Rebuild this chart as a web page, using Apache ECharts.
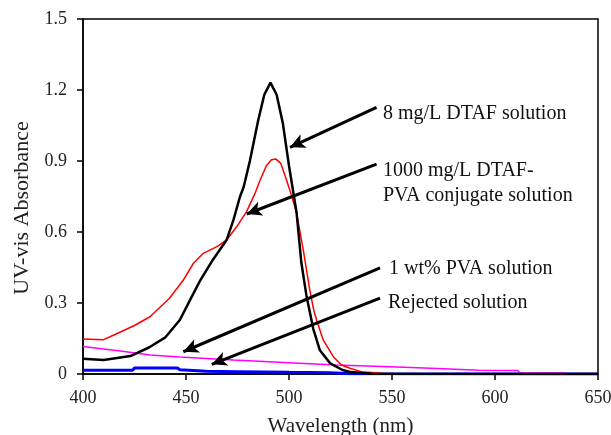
<!DOCTYPE html>
<html><head><meta charset="utf-8">
<script src="https://cdn.jsdelivr.net/npm/echarts@6/dist/echarts.min.js"></script>
<style>html,body{margin:0;padding:0;background:#fff}#c{width:611px;height:435px}</style>
</head><body><div id="c"></div>
<script>
// wavelengths (nm) and absorbance values
const dtafX = [400,410,423,432,440,447,452,457,463,469.7,473,476.2,478,481,485,488,491,494,497,500,503.7,506,508.5,511.8,515,520,526,530,540,650];
const dtafY = [0.064,0.059,0.076,0.112,0.155,0.228,0.313,0.397,0.482,0.566,0.65,0.749,0.79,0.90,1.07,1.18,1.231,1.18,1.06,0.88,0.68,0.47,0.33,0.19,0.10,0.045,0.017,0.008,0.001,0];
const conjX = [400,410,415,425,432.5,442,448.7,453.6,458.4,465,469.7,474.6,479.4,483.5,486,489,491.5,493.7,496,498.8,501,503.7,507,510,512,513.4,516.6,521.5,525.5,529.6,535,545,555,650];
const conjY = [0.148,0.145,0.165,0.205,0.242,0.32,0.397,0.468,0.51,0.538,0.566,0.622,0.686,0.763,0.82,0.88,0.905,0.908,0.89,0.82,0.76,0.68,0.52,0.36,0.27,0.228,0.144,0.073,0.038,0.024,0.01,0.003,0,0];
const pvaX = [400,420,432.5,447,473,500,523,556,575,592,611,612,634,635,650];
const pvaY = [0.116,0.095,0.08,0.072,0.059,0.048,0.038,0.028,0.022,0.016,0.015,0.005,0.004,0,0];
const rejX = [400,424,425,446,447,460,475,500,520,530,650];
const rejY = [0.016,0.016,0.025,0.025,0.018,0.012,0.01,0.007,0.005,0.001,0];
const xTicks = [400,450,500,550,600,650];
const yTicks = [0,0.3,0.6,0.9,1.2,1.5];
// annotation arrows: [tailX, tailY, headX, headY] in data units
const arrows = [
  [542.5,1.127,500.5,0.958],
  [542.5,0.887,479.5,0.676],
  [544.2,0.448,448.7,0.094],
  [544.2,0.321,462.5,0.041]
];
const labels = ['8 mg/L DTAF solution','1000 mg/L DTAF-','PVA conjugate solution','1 wt% PVA solution','Rejected solution'];
const xTitle = 'Wavelength (nm)';
const yTitle = 'UV-vis Absorbance';

const zip = (a,b)=>a.map((v,i)=>[v,b[i]]);
const font = 'Liberation Serif';
const chart = echarts.init(document.getElementById('c'));
const txt = (s,x,y)=>({type:'text',x:x,y:y,style:{text:s,font:'20px "Liberation Serif"',fill:'#111',verticalAlign:'middle'}});
chart.setOption({
  animation:false,
  grid:{left:83,right:13,top:19,bottom:61,show:true,borderColor:'#000',borderWidth:1.5,containLabel:false,outerBoundsMode:'none'},
  xAxis:{type:'value',min:xTicks[0],max:xTicks[xTicks.length-1],interval:50,
    name:xTitle,nameLocation:'middle',nameGap:42,
    nameTextStyle:{fontFamily:font,fontSize:21,color:'#222'},
    axisLine:{lineStyle:{color:'#000',width:1.5}},
    axisTick:{show:true,length:6,lineStyle:{color:'#000',width:1.5}},
    axisLabel:{fontFamily:font,fontSize:18,color:'#222',margin:15},
    splitLine:{show:false}},
  yAxis:{type:'value',min:yTicks[0],max:yTicks[yTicks.length-1],interval:0.3,
    axisLine:{lineStyle:{color:'#000',width:1.5}},
    axisTick:{show:true,length:6,lineStyle:{color:'#000',width:1.5}},
    axisLabel:{fontFamily:font,fontSize:18,color:'#222',margin:16},
    splitLine:{show:false}},
  series:[
    {type:'line',data:zip(rejX,rejY),showSymbol:false,lineStyle:{color:'#0000ff',width:3},z:2},
    {type:'line',data:zip(pvaX,pvaY),showSymbol:false,lineStyle:{color:'#ff00ff',width:1.5},z:3},
    {type:'line',data:zip(conjX,conjY),showSymbol:false,lineStyle:{color:'#ff0000',width:1.5},z:4},
    {type:'line',data:zip(dtafX,dtafY),showSymbol:false,lineStyle:{color:'#000',width:2.5},z:5,
      markLine:{silent:true,symbol:['none','arrow'],symbolSize:[11,15],animation:false,
        label:{show:false},
        lineStyle:{color:'#000',width:3,type:'solid'},
        data:arrows.map(a=>[{coord:[a[0],a[1]]},{coord:[a[2],a[3]]}])}}
  ],
  graphic:[
    txt(labels[0],383,114),
    txt(labels[1],383,171),
    txt(labels[2],383,196),
    txt(labels[3],389,269),
    txt(labels[4],388,303),
    {type:'text',x:22,y:208,rotation:Math.PI/2,style:{text:yTitle,font:'22px "Liberation Serif"',fill:'#222',align:'center',verticalAlign:'middle'}}
  ]
});
</script></body></html>
